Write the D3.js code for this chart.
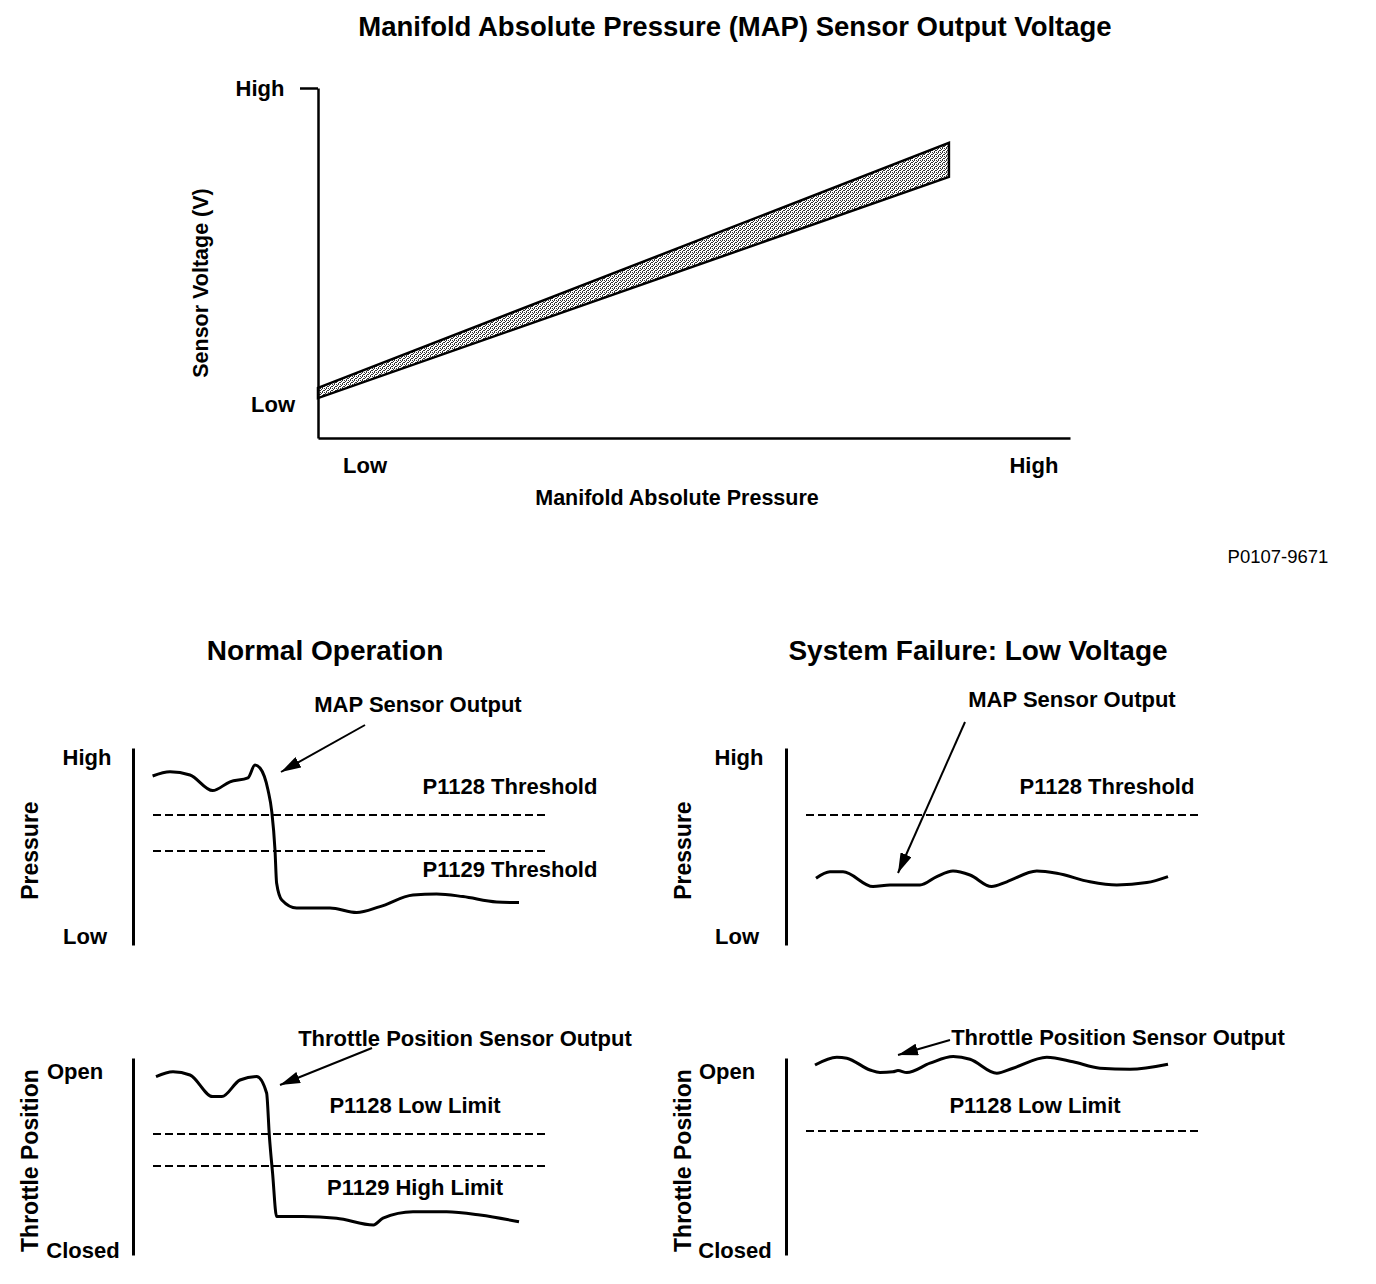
<!DOCTYPE html>
<html>
<head>
<meta charset="utf-8">
<script src="https://cdn.jsdelivr.net/npm/d3@7"></script>
<style>
  body { margin: 0; background: #fff; }
  svg text { font-family: "Liberation Sans", Arial, sans-serif; font-weight: bold; fill: #000; }
</style>
</head>
<body>
<div id="chart"></div>
<script>
// ---- data (values on a 0..100 Low..High scale) ----
var mapLevels = ["Low", "High"];
var throttleLevels = ["Closed", "Open"];

// MAP sensor output band (pressure -> voltage)
var bandUpper = [[0, 14.3], [83.9, 84.3]];
var bandLower = [[0, 11.4], [83.9, 74.6]];

// normal operation traces
var normalPressure = [[4.9, 84.5], [9.25, 86.6], [14.25, 85], [19.9, 77.2], [24.25, 81.6], [28.75, 83.6],
  [30.5, 90], [31.75, 88.5], [33.75, 77.5], [34.7, 66.6], [35.5, 47.5], [35.9, 31], [37.2, 22.5],
  [40.9, 18.5], [45.9, 18.5], [49.25, 18.5], [55.9, 16.2], [61.75, 19.2], [70, 25], [75.9, 25.5],
  [82.5, 24.2], [90.9, 21.5], [96.5, 21.2]];
var normalThrottle = [[5.75, 89.2], [10, 91.6], [14.25, 90], [19.9, 79.2], [22.2, 79.2], [26.75, 87.5],
  [30.9, 89.2], [33.4, 81], [34.1, 59.2], [34.9, 40.8], [35.9, 19.2], [42.5, 19.2], [50.9, 18.4],
  [60.1, 15], [62.5, 18.4], [70, 21.6], [78.4, 21.6], [86.75, 20], [96.5, 16.6]];

// low voltage failure traces
var failPressure = [[7.5, 33.4], [11, 36.6], [14.25, 36.6], [21.75, 29.2], [26, 30], [33.5, 30],
  [37.7, 34.2], [41.75, 37], [46, 35], [51.4, 29.2], [55.2, 31.6], [62.7, 37], [67.7, 35.9],
  [76, 31.6], [82.7, 30], [90.2, 31.2], [95.5, 34.2]];
var failThrottle = [[7.25, 95], [12.7, 98.9], [15.2, 98.4], [21, 92.5], [23.5, 91.2], [26.75, 91.6],
  [28, 92.2], [30.2, 91.2], [36, 95.9], [41.8, 99.2], [46, 97.9], [52.7, 90.9], [56.75, 93.4],
  [65.2, 98.9], [71.75, 96.6], [78.5, 93.4], [86, 92.9], [95.5, 95.4]];

// thresholds / limits
var pressureThresholds = [65, 47];      // P1128, P1129
var throttleLimits = [60.5, 44.5];      // P1128 low, P1129 high
var failPressureThreshold = [65];
var failThrottleLimit = [62];

var svg = d3.select("#chart").append("svg").attr("width", 1376).attr("height", 1284);

// stipple fill
var defs = svg.append("defs");
var pat = defs.append("pattern").attr("id", "stipple")
  .attr("width", 4).attr("height", 4).attr("patternUnits", "userSpaceOnUse");
pat.append("rect").attr("width", 4).attr("height", 4).attr("fill", "#fff");
[[0, 0], [2, 0], [1, 1], [3, 2], [0, 2], [2, 3]].forEach(function(p){
  pat.append("rect").attr("x", p[0]).attr("y", p[1]).attr("width", 1).attr("height", 1).attr("fill", "#333");
});
defs.append("marker").attr("id", "head")
  .attr("viewBox", "0 0 20 12").attr("refX", 20).attr("refY", 6)
  .attr("markerWidth", 20).attr("markerHeight", 12).attr("markerUnits", "userSpaceOnUse")
  .attr("orient", "auto")
  .append("path").attr("d", "M0,0L20,6L0,12Z").attr("fill", "#000");

// ---------- top chart ----------
var x = d3.scaleLinear().domain([0, 100]).range([318, 1070]);
var y = d3.scaleLinear().domain([0, 100]).range([438, 88]);

svg.append("text").attr("x", 735).attr("y", 36).attr("text-anchor", "middle")
  .style("font-size", "27.5px").text("Manifold Absolute Pressure (MAP) Sensor Output Voltage");

var band = bandUpper.concat(bandLower.slice().reverse());
svg.append("path").datum(band)
  .attr("d", d3.line().x(function(d){ return x(d[0]); }).y(function(d){ return y(d[1]); }).curve(d3.curveLinearClosed))
  .attr("fill", "url(#stipple)").attr("stroke", "#000").attr("stroke-width", 2.5).attr("stroke-linejoin", "miter");

svg.append("g").attr("transform", "translate(318,0)")
  .call(d3.axisLeft(y).tickValues([100]).tickSize(18).tickSizeOuter(0).tickFormat(""));
svg.append("g").attr("transform", "translate(0,438)")
  .call(d3.axisBottom(x).tickValues([]).tickSizeOuter(0));
svg.selectAll(".domain, .tick line").attr("stroke", "#000").attr("stroke-width", 2.5);

svg.append("text").attr("x", 260).attr("y", y(100)).attr("dy", "0.35em").attr("text-anchor", "middle")
  .style("font-size", "22px").text(mapLevels[1]);
svg.append("text").attr("x", 273).attr("y", y(9.7)).attr("dy", "0.35em").attr("text-anchor", "middle")
  .style("font-size", "22px").text(mapLevels[0]);
svg.append("text").attr("x", x(6.25)).attr("y", 465).attr("dy", "0.35em").attr("text-anchor", "middle")
  .style("font-size", "22px").text(mapLevels[0]);
svg.append("text").attr("x", x(95.2)).attr("y", 465).attr("dy", "0.35em").attr("text-anchor", "middle")
  .style("font-size", "22px").text(mapLevels[1]);
svg.append("text").attr("x", 677).attr("y", 497).attr("dy", "0.35em").attr("text-anchor", "middle")
  .style("font-size", "21.5px").text("Manifold Absolute Pressure");
svg.append("text").attr("transform", "translate(200,283) rotate(-90)").attr("dy", "0.35em")
  .attr("text-anchor", "middle").style("font-size", "21.5px").text("Sensor Voltage (V)");

svg.append("text").attr("x", 1278).attr("y", 557).attr("dy", "0.35em").attr("text-anchor", "middle")
  .style("font-size", "18.5px").style("font-weight", "normal").text("P0107-9671");

// ---------- bottom panels ----------
svg.append("text").attr("x", 325).attr("y", 650).attr("dy", "0.35em").attr("text-anchor", "middle")
  .style("font-size", "28px").text("Normal Operation");
svg.append("text").attr("x", 978).attr("y", 650).attr("dy", "0.35em").attr("text-anchor", "middle")
  .style("font-size", "28px").text("System Failure: Low Voltage");

var panels = [
  { left: 133, top: 745, bottom: 945, levels: mapLevels, title: "Pressure",
    trace: normalPressure, lines: pressureThresholds,
    labels: [["P1128 Threshold", 94.25, 79.5], ["P1129 Threshold", 94.25, 38]],
    lvlPos: [[-48, 4.5], [-46, 94]],
    note: "MAP Sensor Output", notePos: [71.25, 120.5], arrow: [[58, 110], [37, 86.5]] },
  { left: 786, top: 745, bottom: 945, levels: mapLevels, title: "Pressure",
    trace: failPressure, lines: failPressureThreshold,
    labels: [["P1128 Threshold", 80.25, 79.5]],
    lvlPos: [[-49, 4.5], [-47, 94]],
    note: "MAP Sensor Output", notePos: [71.5, 123], arrow: [[44.75, 111.5], [28, 36]] },
  { left: 133, top: 1055, bottom: 1255, levels: throttleLevels, title: "Throttle Position",
    trace: normalThrottle, lines: throttleLimits,
    labels: [["P1128 Low Limit", 70.5, 75], ["P1129 High Limit", 70.5, 34]],
    lvlPos: [[-50, 2.5], [-58, 92]],
    note: "Throttle Position Sensor Output", notePos: [83, 108.5], arrow: [[59.75, 103.5], [36.75, 85]] },
  { left: 786, top: 1055, bottom: 1255, levels: throttleLevels, title: "Throttle Position",
    trace: failThrottle, lines: failThrottleLimit,
    labels: [["P1128 Low Limit", 62.25, 75]],
    lvlPos: [[-51, 2.5], [-59, 92]],
    note: "Throttle Position Sensor Output", notePos: [83, 109], arrow: [[41, 107.5], [28, 100]] }
];

panels.forEach(function(p){
  var px = d3.scaleLinear().domain([0, 100]).range([p.left, p.left + 400]);
  var py = d3.scaleLinear().domain([0, 100]).range([p.bottom, p.top]);
  var g = svg.append("g");

  g.append("g").attr("transform", "translate(" + p.left + ",0)")
    .call(d3.axisLeft(py.copy().range([p.bottom, p.bottom - 197])).tickValues([]).tickSizeOuter(0))
    .select(".domain").attr("stroke", "#000").attr("stroke-width", 3);

  p.levels.forEach(function(lv, i){
    g.append("text").attr("x", px(0) + p.lvlPos[i][0]).attr("y", py(p.lvlPos[i][1])).attr("dy", "0.35em")
      .attr("text-anchor", "middle").style("font-size", "22px").text(lv);
  });
  g.append("text").attr("transform", "translate(" + (p.left - 103) + "," + py(47.2) + ") rotate(-90)")
    .attr("dy", "0.35em").attr("text-anchor", "middle").style("font-size", "23px").text(p.title);

  g.selectAll(".thr").data(p.lines).enter().append("line")
    .attr("x1", px(5)).attr("x2", px(103.75))
    .attr("y1", function(d){ return py(d); }).attr("y2", function(d){ return py(d); })
    .attr("stroke", "#000").attr("stroke-width", 1.8).attr("stroke-dasharray", "8,4");

  p.labels.forEach(function(l){
    g.append("text").attr("x", px(l[1])).attr("y", py(l[2])).attr("dy", "0.35em")
      .attr("text-anchor", "middle").style("font-size", "22px").text(l[0]);
  });

  g.append("path").datum(p.trace)
    .attr("d", d3.line().x(function(d){ return px(d[0]); }).y(function(d){ return py(d[1]); }).curve(d3.curveMonotoneX))
    .attr("fill", "none").attr("stroke", "#000").attr("stroke-width", 3).attr("stroke-linejoin", "round");

  g.append("text").attr("x", px(p.notePos[0])).attr("y", py(p.notePos[1])).attr("dy", "0.35em")
    .attr("text-anchor", "middle").style("font-size", "22px").text(p.note);
  g.append("line")
    .attr("x1", px(p.arrow[0][0])).attr("y1", py(p.arrow[0][1]))
    .attr("x2", px(p.arrow[1][0])).attr("y2", py(p.arrow[1][1]))
    .attr("stroke", "#000").attr("stroke-width", 2).attr("marker-end", "url(#head)");
});
</script>
</body>
</html>
